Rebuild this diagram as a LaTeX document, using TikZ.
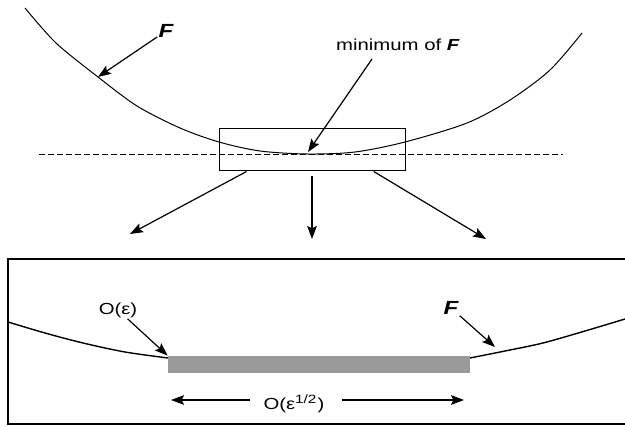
\documentclass[tikz,border=0pt]{standalone}
\usepackage{fontspec}
\setmainfont{Liberation Sans}
\usepackage{tikz}
\usetikzlibrary{calc}
\usetikzlibrary{arrows.meta}

\newcommand{\wideText}[1]{\scalebox{1.27}[1]{#1}}

\begin{document}
\begin{tikzpicture}[x=0.5pt,y=-0.5pt]
  \tikzset{every node/.style={font=\fontsize{8}{9.5}\selectfont,inner sep=0.5pt}};
  \tikzset{arr/.style={line width=0.6pt,-{Stealth[length=6.5pt,width=4.8pt,inset=1.2pt]}}};
  \tikzset{bigF/.style={font=\fontsize{9.5}{11}\selectfont\bfseries\itshape}};
  \useasboundingbox (0,0) rectangle (625,427);
  % upper curve and its minimum
  \draw[line width=0.5pt] plot[smooth] coordinates {(25,8) (56,43) (98,77) (137,106) (180,128) (219,142) (260,151) (308,154) (355,152) (405,142) (467,123) (510,100) (550,70) (582,33)};
  \draw[line width=0.5pt,dash pattern=on 3pt off 1.5pt] (39,155) -- (563,155);
  \node[draw,line width=0.5pt,minimum width=93pt,minimum height=21pt,inner sep=0pt] (zoom) at (312,150) {};
  \node[bigF] (labF) at (166,31) {\wideText{F}};
  \node (labMin) at (398,45) {\wideText{minimum of \textbf{\textit{F}}}};
  \coordinate (tipF) at (98,77);
  \coordinate (tipMin) at (308,152);
  \coordinate (fromMin) at (372,59);
  \draw[arr] (labF) -- (tipF);
  \draw[arr] (fromMin) -- (tipMin);
  % blow-up arrows
  \coordinate (tipL) at (130,234);
  \coordinate (tipM) at (312,239);
  \coordinate (tipR) at (486,239);
  \draw[arr] ($(zoom.south west)!0.15!(zoom.south east)$) -- (tipL);
  \draw[arr] ([yshift=-2.5pt]zoom.south) -- (tipM);
  \draw[arr] ($(zoom.south west)!0.83!(zoom.south east)$) -- (tipR);
  % lower panel
  \draw[line width=1.2pt] (625,259) -- (8,259) -- (8,424) -- (625,424);
  \draw[line width=0.7pt] plot[smooth] coordinates {(8,322) (45,333) (83,343) (125,352) (168,358)};
  \draw[line width=0.7pt] plot[smooth] coordinates {(470,358) (505,351) (543,343) (585,331) (625,319)};
  \node[fill=black!40,minimum width=151pt,minimum height=8.5pt,inner sep=0pt] (band) at (319,364.5) {};
  \node (labEps) at (118,310) {\wideText{O(ε)}};
  \node[bigF] (labF2) at (451,308) {\wideText{F}};
  \coordinate (tipF2) at (495,347);
  \draw[arr] (labEps) -- (band.north west);
  \draw[arr] (labF2) -- (tipF2);
  \node[anchor=base] (labSqrt) at (294,409) {\wideText{O(ε\textsuperscript{1/2})}};
  \coordinate (sqL) at (171,400);
  \coordinate (sqR) at (464,400);
  \draw[arr] ($(labSqrt.west |- sqL)+(-12,0)$) -- (sqL);
  \draw[arr] ($(labSqrt.east |- sqR)+(16,0)$) -- (sqR);
\end{tikzpicture}
\end{document}
